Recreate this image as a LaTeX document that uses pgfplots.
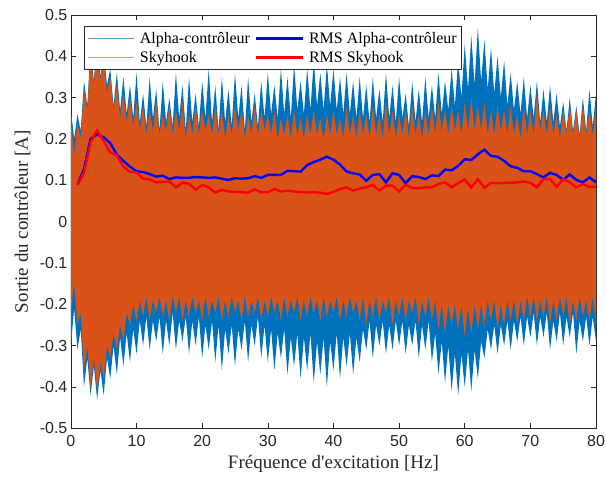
\documentclass[border=0pt]{standalone}
\usepackage{fontspec}
\setmainfont{Liberation Serif}[Ligatures=TeXOff]
\newfontfamily\ticksans{Liberation Sans}
\usepackage{pgfplots}
\pgfplotsset{compat=1.18}
\usepackage{pgfplotstable}
\definecolor{mblue}{rgb}{0,0.447,0.741}
\definecolor{morange}{rgb}{0.85,0.325,0.098}
\definecolor{axgray}{rgb}{0.15,0.15,0.15}

% Alpha-controleur signal envelope: upper edge forward, lower edge backward
\pgfplotstableread{
x y
0.0 0.27
0.5 0.20
1.0 0.26
1.5 0.22
2.0 0.34
2.5 0.28
3.0 0.42
3.5 0.34
4.0 0.44
4.5 0.35
5.0 0.41
5.5 0.33
6.0 0.37
6.5 0.28
7.0 0.36
7.5 0.27
8.0 0.35
8.5 0.26
9.0 0.33
9.5 0.25
10.0 0.36
10.5 0.24
11.0 0.31
11.5 0.23
12.0 0.35
12.5 0.25
13.0 0.32
13.5 0.22
14.0 0.34
14.5 0.24
15.0 0.30
15.5 0.23
16.0 0.36
16.5 0.25
17.0 0.33
17.5 0.22
18.0 0.35
18.5 0.24
19.0 0.31
19.5 0.23
20.0 0.34
20.5 0.25
21.0 0.37
21.5 0.24
22.0 0.33
22.5 0.22
23.0 0.35
23.5 0.24
24.0 0.32
24.5 0.23
25.0 0.36
25.5 0.25
26.0 0.33
26.5 0.22
27.0 0.35
27.5 0.24
28.0 0.31
28.5 0.23
29.0 0.34
29.5 0.25
30.0 0.36
30.5 0.26
31.0 0.33
31.5 0.25
32.0 0.37
32.5 0.26
33.0 0.35
33.5 0.25
34.0 0.38
34.5 0.27
35.0 0.34
35.5 0.26
36.0 0.37
36.5 0.27
37.0 0.39
37.5 0.28
38.0 0.36
38.5 0.27
39.0 0.38
39.5 0.28
40.0 0.37
40.5 0.27
41.0 0.35
41.5 0.26
42.0 0.36
42.5 0.26
43.0 0.34
43.5 0.25
44.0 0.35
44.5 0.25
45.0 0.33
45.5 0.24
46.0 0.35
46.5 0.25
47.0 0.32
47.5 0.24
48.0 0.36
48.5 0.25
49.0 0.33
49.5 0.24
50.0 0.35
50.5 0.25
51.0 0.31
51.5 0.23
52.0 0.34
52.5 0.24
53.0 0.32
53.5 0.24
54.0 0.35
54.5 0.25
55.0 0.33
55.5 0.25
56.0 0.36
56.5 0.26
57.0 0.34
57.5 0.27
58.0 0.37
58.5 0.28
59.0 0.39
59.5 0.30
60.0 0.43
60.5 0.32
61.0 0.45
61.5 0.33
62.0 0.47
62.5 0.34
63.0 0.44
63.5 0.32
64.0 0.42
64.5 0.31
65.0 0.40
65.5 0.30
66.0 0.39
66.5 0.28
67.0 0.36
67.5 0.27
68.0 0.34
68.5 0.26
69.0 0.35
69.5 0.25
70.0 0.33
70.5 0.25
71.0 0.34
71.5 0.24
72.0 0.32
72.5 0.24
73.0 0.33
73.5 0.24
74.0 0.31
74.5 0.23
75.0 0.29
75.5 0.22
76.0 0.30
76.5 0.22
77.0 0.28
77.5 0.21
78.0 0.30
78.5 0.22
79.0 0.32
79.5 0.23
80.0 0.31
80.0 -0.29
79.5 -0.23
79.0 -0.30
78.5 -0.23
78.0 -0.29
77.5 -0.24
77.0 -0.32
76.5 -0.22
76.0 -0.28
75.5 -0.23
75.0 -0.30
74.5 -0.22
74.0 -0.29
73.5 -0.24
73.0 -0.31
72.5 -0.22
72.0 -0.28
71.5 -0.23
71.0 -0.30
70.5 -0.22
70.0 -0.28
69.5 -0.23
69.0 -0.30
68.5 -0.23
68.0 -0.29
67.5 -0.24
67.0 -0.31
66.5 -0.24
66.0 -0.30
65.5 -0.25
65.0 -0.32
64.5 -0.25
64.0 -0.31
63.5 -0.26
63.0 -0.33
62.5 -0.29
62.0 -0.38
61.5 -0.31
61.0 -0.41
60.5 -0.31
60.0 -0.40
59.5 -0.32
59.0 -0.42
58.5 -0.32
58.0 -0.41
57.5 -0.30
57.0 -0.39
56.5 -0.29
56.0 -0.37
55.5 -0.27
55.0 -0.34
54.5 -0.24
54.0 -0.31
53.5 -0.25
53.0 -0.33
52.5 -0.24
52.0 -0.30
51.5 -0.25
51.0 -0.32
50.5 -0.24
50.0 -0.30
49.5 -0.24
49.0 -0.31
48.5 -0.25
48.0 -0.32
47.5 -0.24
47.0 -0.30
46.5 -0.25
46.0 -0.33
45.5 -0.24
45.0 -0.31
44.5 -0.26
44.0 -0.34
43.5 -0.28
43.0 -0.37
42.5 -0.27
42.0 -0.35
41.5 -0.28
41.0 -0.38
40.5 -0.27
40.0 -0.36
39.5 -0.29
39.0 -0.40
38.5 -0.28
38.0 -0.37
37.5 -0.29
37.0 -0.39
36.5 -0.27
36.0 -0.36
35.5 -0.28
35.0 -0.38
34.5 -0.27
34.0 -0.35
33.5 -0.28
33.0 -0.37
32.5 -0.26
32.0 -0.33
31.5 -0.27
31.0 -0.36
30.5 -0.26
30.0 -0.34
29.5 -0.25
29.0 -0.33
28.5 -0.23
28.0 -0.30
27.5 -0.25
27.0 -0.34
26.5 -0.24
26.0 -0.31
25.5 -0.26
25.0 -0.35
24.5 -0.25
24.0 -0.32
23.5 -0.26
23.0 -0.36
22.5 -0.25
22.0 -0.34
21.5 -0.24
21.0 -0.31
20.5 -0.25
20.0 -0.33
19.5 -0.23
19.0 -0.30
18.5 -0.24
18.0 -0.32
17.5 -0.23
17.0 -0.29
16.5 -0.24
16.0 -0.31
15.5 -0.22
15.0 -0.30
14.5 -0.24
14.0 -0.32
13.5 -0.23
13.0 -0.29
12.5 -0.24
12.0 -0.31
11.5 -0.23
11.0 -0.30
10.5 -0.24
10.0 -0.32
9.5 -0.26
9.0 -0.34
8.5 -0.27
8.0 -0.35
7.5 -0.28
7.0 -0.37
6.5 -0.30
6.0 -0.38
5.5 -0.33
5.0 -0.42
4.5 -0.36
4.0 -0.43
3.5 -0.35
3.0 -0.42
2.5 -0.33
2.0 -0.40
1.5 -0.26
1.0 -0.31
0.5 -0.21
0.0 -0.30
}\bpoly

% Skyhook signal envelope: upper edge forward, lower edge backward
\pgfplotstableread{
x y
0.0 0.25
0.5 0.16
1.0 0.24
1.5 0.20
2.0 0.32
2.5 0.27
3.0 0.41
3.5 0.33
4.0 0.43
4.5 0.34
5.0 0.40
5.5 0.31
6.0 0.35
6.5 0.27
7.0 0.33
7.5 0.25
8.0 0.31
8.5 0.24
9.0 0.30
9.5 0.23
10.0 0.29
10.5 0.22
11.0 0.28
11.5 0.21
12.0 0.27
12.5 0.22
13.0 0.29
13.5 0.21
14.0 0.26
14.5 0.22
15.0 0.28
15.5 0.21
16.0 0.27
16.5 0.22
17.0 0.29
17.5 0.20
18.0 0.26
18.5 0.21
19.0 0.28
19.5 0.21
20.0 0.27
20.5 0.22
21.0 0.26
21.5 0.21
22.0 0.28
22.5 0.21
23.0 0.27
23.5 0.20
24.0 0.26
24.5 0.21
25.0 0.28
25.5 0.22
26.0 0.27
26.5 0.20
27.0 0.26
27.5 0.21
28.0 0.28
28.5 0.21
29.0 0.27
29.5 0.22
30.0 0.26
30.5 0.21
31.0 0.27
31.5 0.20
32.0 0.25
32.5 0.21
33.0 0.26
33.5 0.20
34.0 0.27
34.5 0.21
35.0 0.25
35.5 0.20
36.0 0.26
36.5 0.21
37.0 0.27
37.5 0.21
38.0 0.25
38.5 0.20
39.0 0.26
39.5 0.21
40.0 0.27
40.5 0.21
41.0 0.25
41.5 0.20
42.0 0.28
42.5 0.21
43.0 0.26
43.5 0.20
44.0 0.27
44.5 0.21
45.0 0.26
45.5 0.20
46.0 0.28
46.5 0.21
47.0 0.26
47.5 0.20
48.0 0.29
48.5 0.21
49.0 0.27
49.5 0.20
50.0 0.26
50.5 0.21
51.0 0.27
51.5 0.20
52.0 0.28
52.5 0.21
53.0 0.26
53.5 0.20
54.0 0.27
54.5 0.21
55.0 0.28
55.5 0.21
56.0 0.29
56.5 0.22
57.0 0.27
57.5 0.21
58.0 0.28
58.5 0.22
59.0 0.27
59.5 0.21
60.0 0.29
60.5 0.22
61.0 0.30
61.5 0.22
62.0 0.28
62.5 0.22
63.0 0.29
63.5 0.21
64.0 0.27
64.5 0.21
65.0 0.28
65.5 0.22
66.0 0.27
66.5 0.21
67.0 0.28
67.5 0.21
68.0 0.26
68.5 0.20
69.0 0.28
69.5 0.21
70.0 0.27
70.5 0.21
71.0 0.31
71.5 0.22
72.0 0.27
72.5 0.21
73.0 0.28
73.5 0.21
74.0 0.26
74.5 0.20
75.0 0.27
75.5 0.21
76.0 0.28
76.5 0.21
77.0 0.27
77.5 0.20
78.0 0.28
78.5 0.21
79.0 0.27
79.5 0.21
80.0 0.28
80.0 -0.25
79.5 -0.18
79.0 -0.24
78.5 -0.19
78.0 -0.23
77.5 -0.18
77.0 -0.24
76.5 -0.19
76.0 -0.25
75.5 -0.18
75.0 -0.23
74.5 -0.18
74.0 -0.24
73.5 -0.19
73.0 -0.25
72.5 -0.18
72.0 -0.23
71.5 -0.19
71.0 -0.24
70.5 -0.18
70.0 -0.23
69.5 -0.18
69.0 -0.24
68.5 -0.19
68.0 -0.25
67.5 -0.19
67.0 -0.24
66.5 -0.19
66.0 -0.25
65.5 -0.20
65.0 -0.26
64.5 -0.19
64.0 -0.24
63.5 -0.19
63.0 -0.25
62.5 -0.20
62.0 -0.26
61.5 -0.20
61.0 -0.27
60.5 -0.21
60.0 -0.28
59.5 -0.20
59.0 -0.26
58.5 -0.20
58.0 -0.25
57.5 -0.20
57.0 -0.27
56.5 -0.20
56.0 -0.26
55.5 -0.19
55.0 -0.24
54.5 -0.18
54.0 -0.23
53.5 -0.19
53.0 -0.25
52.5 -0.18
52.0 -0.22
51.5 -0.19
51.0 -0.24
50.5 -0.18
50.0 -0.23
49.5 -0.19
49.0 -0.25
48.5 -0.18
48.0 -0.22
47.5 -0.19
47.0 -0.24
46.5 -0.18
46.0 -0.23
45.5 -0.19
45.0 -0.25
44.5 -0.18
44.0 -0.24
43.5 -0.19
43.0 -0.22
42.5 -0.18
42.0 -0.23
41.5 -0.19
41.0 -0.24
40.5 -0.18
40.0 -0.22
39.5 -0.19
39.0 -0.23
38.5 -0.18
38.0 -0.24
37.5 -0.19
37.0 -0.22
36.5 -0.18
36.0 -0.23
35.5 -0.19
35.0 -0.24
34.5 -0.18
34.0 -0.22
33.5 -0.19
33.0 -0.23
32.5 -0.18
32.0 -0.24
31.5 -0.19
31.0 -0.22
30.5 -0.18
30.0 -0.23
29.5 -0.19
29.0 -0.24
28.5 -0.18
28.0 -0.22
27.5 -0.19
27.0 -0.23
26.5 -0.18
26.0 -0.24
25.5 -0.19
25.0 -0.22
24.5 -0.18
24.0 -0.23
23.5 -0.19
23.0 -0.24
22.5 -0.18
22.0 -0.22
21.5 -0.19
21.0 -0.23
20.5 -0.18
20.0 -0.24
19.5 -0.19
19.0 -0.22
18.5 -0.18
18.0 -0.23
17.5 -0.19
17.0 -0.24
16.5 -0.18
16.0 -0.22
15.5 -0.18
15.0 -0.24
14.5 -0.19
14.0 -0.23
13.5 -0.18
13.0 -0.22
12.5 -0.19
12.0 -0.24
11.5 -0.18
11.0 -0.23
10.5 -0.19
10.0 -0.24
9.5 -0.20
9.0 -0.25
8.5 -0.22
8.0 -0.29
7.5 -0.25
7.0 -0.31
6.5 -0.27
6.0 -0.33
5.5 -0.30
5.0 -0.38
4.5 -0.34
4.0 -0.41
3.5 -0.33
3.0 -0.40
2.5 -0.30
2.0 -0.36
1.5 -0.22
1.0 -0.25
0.5 -0.15
0.0 -0.22
}\opoly

\pgfplotstableread{
x ba sk
1 0.089 0.089
2 0.127 0.118
3 0.200 0.192
4 0.211 0.221
5 0.204 0.195
6 0.190 0.167
7 0.162 0.160
8 0.147 0.133
9 0.133 0.120
10 0.122 0.119
11 0.120 0.104
12 0.115 0.102
13 0.109 0.095
14 0.111 0.096
15 0.103 0.097
16 0.107 0.083
17 0.106 0.094
18 0.106 0.092
19 0.108 0.077
20 0.107 0.089
21 0.106 0.083
22 0.107 0.070
23 0.104 0.077
24 0.101 0.073
25 0.105 0.072
26 0.104 0.071
27 0.105 0.070
28 0.110 0.078
29 0.106 0.071
30 0.113 0.071
31 0.113 0.079
32 0.113 0.073
33 0.123 0.075
34 0.122 0.073
35 0.121 0.071
36 0.137 0.071
37 0.144 0.071
38 0.150 0.070
39 0.157 0.067
40 0.150 0.072
41 0.138 0.079
42 0.121 0.083
43 0.117 0.075
44 0.114 0.080
45 0.099 0.083
46 0.113 0.089
47 0.115 0.075
48 0.095 0.087
49 0.117 0.087
50 0.113 0.073
51 0.093 0.089
52 0.110 0.081
53 0.108 0.081
54 0.103 0.083
55 0.112 0.083
56 0.110 0.091
57 0.126 0.095
58 0.124 0.083
59 0.135 0.093
60 0.151 0.102
61 0.149 0.082
62 0.163 0.103
63 0.174 0.082
64 0.159 0.094
65 0.157 0.093
66 0.147 0.094
67 0.134 0.094
68 0.130 0.095
69 0.122 0.097
70 0.122 0.094
71 0.115 0.083
72 0.107 0.103
73 0.118 0.103
74 0.113 0.084
75 0.101 0.103
76 0.114 0.095
77 0.101 0.083
78 0.095 0.091
79 0.107 0.084
80 0.095 0.084
}\rms

\begin{document}
\begin{tikzpicture}
\begin{axis}[
  scale only axis, width=526pt, height=414pt,
  xmin=0, xmax=80, ymin=-0.5, ymax=0.5,
  xtick={0,10,20,30,40,50,60,70,80},
  xticklabels={0,10,20,30,40,50,60,70,80},
  ytick={-0.5,-0.4,-0.3,-0.2,-0.1,0,0.1,0.2,0.3,0.4,0.5},
  yticklabels={-0.5,-0.4,-0.3,-0.2,-0.1,0,0.1,0.2,0.3,0.4,0.5},
  tick align=inside, tick pos=both, major tick length=5pt,
  axis line style={axgray, line width=0.6pt},
  tick style={axgray, line width=0.6pt},
  tick label style={font=\ticksans\fontsize{16}{18}\selectfont, text=axgray},
  xticklabel style={yshift=-4pt},
  xlabel={Fréquence d'excitation [Hz]},
  ylabel={Sortie du contrôleur [A]},
  every axis x label/.style={at={(axis description cs:0.5,0)}, anchor=center, yshift=-36pt, font=\fontsize{19}{22}\selectfont, text=axgray},
  every axis y label/.style={at={(axis description cs:0,0.5)}, xshift=-48.5pt, anchor=center, rotate=90, font=\fontsize{19}{22}\selectfont, text=axgray},
  legend columns=2,
  legend cell align=left,
  legend style={at={(0.0245,0.9735)}, anchor=north west, draw=axgray, line width=0.6pt, fill=white,
    font=\fontsize{16}{18}\selectfont, inner xsep=3pt, inner ysep=4pt, row sep=2.3pt,
    /tikz/every odd column/.append style={column sep=3pt},
    /tikz/every even column/.append style={column sep=3pt}},
  legend image code/.code={\draw[#1] (0pt,0pt) -- (47pt,0pt);},
]
\addlegendimage{draw=mblue!70!white, line width=1pt}
\addlegendentry{Alpha-contrôleur}
\addlegendimage{draw=blue, line width=2.2pt}
\addlegendentry{RMS Alpha-contrôleur}
\addlegendimage{draw=morange!60!white, line width=1pt}
\addlegendentry{Skyhook}
\addlegendimage{draw=red, line width=2.2pt}
\addlegendentry{RMS Skyhook}

\addplot[fill=mblue, draw=none, forget plot] table[x=x, y=y]{\bpoly};
\addplot[fill=morange, draw=none, forget plot] table[x=x, y=y]{\opoly};
\addplot[blue, line width=2.4pt, forget plot] table[x=x, y=ba]{\rms};
\addplot[red, line width=2.4pt, forget plot] table[x=x, y=sk]{\rms};
\end{axis}
\pgfresetboundingbox
\useasboundingbox (-71pt,-50pt) rectangle (536pt,429pt);
\end{tikzpicture}
\end{document}
